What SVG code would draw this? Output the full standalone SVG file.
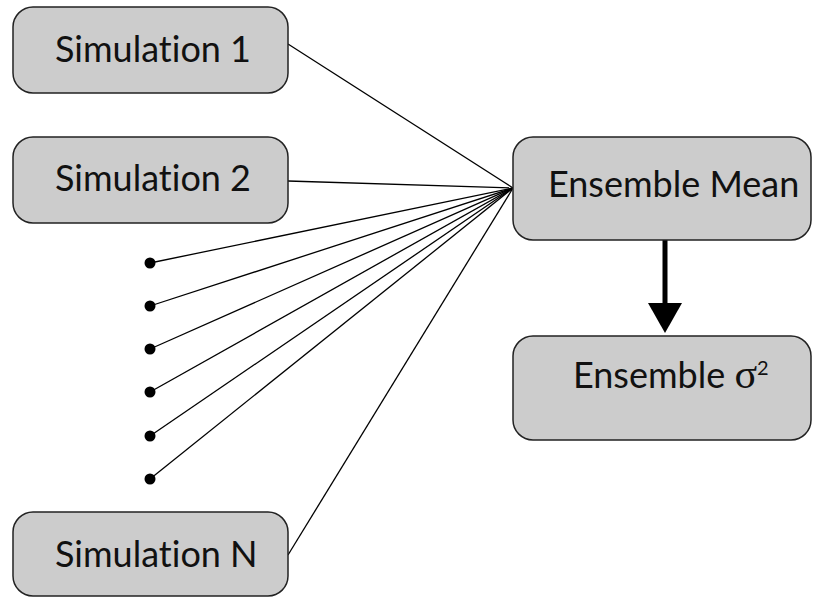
<svg xmlns="http://www.w3.org/2000/svg" width="813" height="598" viewBox="0 0 813 598">
<style>
.box{fill:#cccccc;stroke:#222;stroke-width:1.5}
.t{font-family:Lato,"Open Sans",sans-serif;font-size:36px;fill:#111;font-variant-ligatures:none}
.ln{stroke:#000;stroke-width:1.3;fill:none}
.dot{fill:#000}
</style>
<rect width="813" height="598" fill="#fff"/>
<g id="connectors">
<line class="ln" x1="288" y1="44" x2="513" y2="188"/>
<line class="ln" x1="288" y1="181" x2="513" y2="188"/>
<line class="ln" x1="150" y1="263" x2="513" y2="188"/>
<line class="ln" x1="150" y1="306" x2="513" y2="188"/>
<line class="ln" x1="150" y1="349" x2="513" y2="188"/>
<line class="ln" x1="150" y1="392" x2="513" y2="188"/>
<line class="ln" x1="150" y1="436" x2="513" y2="188"/>
<line class="ln" x1="150" y1="479" x2="513" y2="188"/>
<line class="ln" x1="288" y1="555" x2="513" y2="188"/>
<circle class="dot" cx="150" cy="263" r="5.5"/>
<circle class="dot" cx="150" cy="306" r="5.5"/>
<circle class="dot" cx="150" cy="349" r="5.5"/>
<circle class="dot" cx="150" cy="392" r="5.5"/>
<circle class="dot" cx="150" cy="436" r="5.5"/>
<circle class="dot" cx="150" cy="479" r="5.5"/>
<line x1="665" y1="240" x2="665" y2="305" stroke="#000" stroke-width="5"/>
<polygon points="648,303 682,303 665,333" fill="#000"/>
</g>
<g id="sim1">
<rect class="box" x="13" y="7" width="275" height="86" rx="20"/>
<text class="t" x="55" y="62">Simulation 1</text>
</g>
<g id="sim2">
<rect class="box" x="13" y="137" width="275" height="86" rx="20"/>
<text class="t" x="55" y="191">Simulation 2</text>
</g>
<g id="simN">
<rect class="box" x="13" y="512" width="275" height="84" rx="20"/>
<text class="t" x="55" y="567">Simulation N</text>
</g>
<g id="mean">
<rect class="box" x="513" y="137" width="298" height="103" rx="20"/>
<text class="t" x="548" y="197">Ensemble Mean</text>
</g>
<g id="var">
<rect class="box" x="513" y="336" width="298" height="104" rx="20"/>
<text class="t" x="573" y="388">Ensemble <tspan font-family="'Liberation Serif',serif" font-size="42">σ</tspan><tspan font-size="20" dy="-13">2</tspan></text>
</g>
</svg>
